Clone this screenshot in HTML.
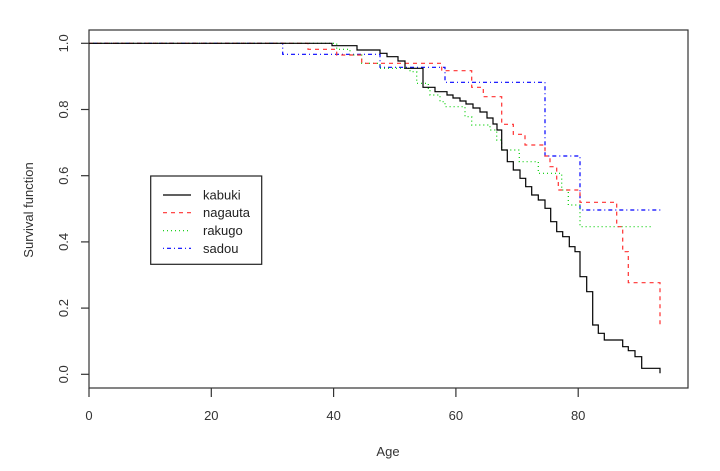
<!DOCTYPE html>
<html><head><style>
body{margin:0;background:#fff;}
svg{display:block;font-family:"Liberation Sans",Arial,sans-serif;}
</style></head><body>
<svg width="720" height="471" viewBox="0 0 720 471" xmlns="http://www.w3.org/2000/svg">
<rect width="720" height="471" fill="#fff"/>
<rect x="89" y="30" width="599" height="358" fill="none" stroke="#333" stroke-width="1.2"/>
<g stroke="#333" stroke-width="1.2">
<line x1="89" y1="43.3" x2="81" y2="43.3"/><line x1="89" y1="109.5" x2="81" y2="109.5"/>
<line x1="89" y1="175.7" x2="81" y2="175.7"/><line x1="89" y1="241.9" x2="81" y2="241.9"/>
<line x1="89" y1="308.1" x2="81" y2="308.1"/><line x1="89" y1="374.3" x2="81" y2="374.3"/>
<line x1="89" y1="388" x2="89" y2="397"/><line x1="211.3" y1="388" x2="211.3" y2="397"/>
<line x1="333.6" y1="388" x2="333.6" y2="397"/><line x1="455.9" y1="388" x2="455.9" y2="397"/>
<line x1="578.2" y1="388" x2="578.2" y2="397"/>
</g>
<g font-size="13" fill="#333" text-anchor="middle">
<text transform="translate(68,43.3) rotate(-90)">1.0</text>
<text transform="translate(68,109.5) rotate(-90)">0.8</text>
<text transform="translate(68,175.7) rotate(-90)">0.6</text>
<text transform="translate(68,241.9) rotate(-90)">0.4</text>
<text transform="translate(68,308.1) rotate(-90)">0.2</text>
<text transform="translate(68,374.3) rotate(-90)">0.0</text>
<text x="89" y="420">0</text><text x="211.3" y="420">20</text><text x="333.6" y="420">40</text>
<text x="455.9" y="420">60</text><text x="578.2" y="420">80</text>
<text x="388" y="456">Age</text>
<text transform="translate(33,210) rotate(-90)">Survival function</text>
</g>
<g fill="none" stroke-width="1.2">
<path stroke="#0000ff" stroke-dasharray="1,3,4,3" d="M89,43.3 H282.7 V54.3 H380 V67.3 H445 V82.3 H545 V156 H580 V210 H663.3"/>
<path stroke="#00cd00" stroke-dasharray="1,3" d="M89,43.3 H336.7 V49.3 H350 V55 H361.7 V63.3 H380 V68.3 H410 V71.7 H416.7 V83.3 H428.3 V88.3 H430 V95 H440 V101.7 H445 V106.7 H465 V116.7 H471.7 V125 H490 V130 H496.7 V140 H501.7 V150 H519.3 V161.7 H538.3 V173.3 H561.7 V190 H568.3 V205 H580 V226.7 H651.7"/>
<path stroke="#ff3030" stroke-dasharray="4,4" d="M89,43.3 H308 V49.3 H336.7 V55 H361.7 V63.3 H441.7 V70.7 H471.7 V87.3 H483.3 V96.7 H501.7 V124.3 H513.3 V134.3 H525 V145 H545 V156 H550 V166.7 H556.7 V180 H558.3 V190 H580 V202.3 H616.7 V226.7 H622.7 V251.7 H628.3 V282.7 H660 V328.3"/>
<path stroke="#000" d="M89,43.3 H332 V45.7 H357 V50 H380 V53.3 H387 V56.7 H398 V61 H405 V68.3 H423 V87.3 H435 V91.7 H447 V95 H453 V98 H460 V101 H466 V104 H473 V108 H480 V112 H487 V118 H493 V124 H497 V130 H501.7 V150 H507.3 V161.7 H513.3 V170 H520 V178.3 H525.7 V186.7 H531.7 V195 H538.3 V200 H545 V208.3 H550.7 V221.7 H556.7 V231.7 H562.7 V236.7 H569.3 V246.7 H575 V251.7 H580 V276.7 H586.7 V291.7 H592.7 V325 H598.3 V333.3 H604.3 V340 H622.7 V346.7 H628.3 V350.7 H635 V356.7 H641.7 V368.3 H660 V373.3"/>
</g>
<rect x="150.7" y="176" width="111" height="88.3" fill="#fff" stroke="#222" stroke-width="1.2"/>
<g stroke-width="1.2">
<line x1="163" y1="195" x2="191" y2="195" stroke="#000"/>
<line x1="163" y1="212.7" x2="191" y2="212.7" stroke="#ff3030" stroke-dasharray="4,4"/>
<line x1="163" y1="230.7" x2="191" y2="230.7" stroke="#00cd00" stroke-dasharray="1,3"/>
<line x1="163" y1="248.3" x2="191" y2="248.3" stroke="#0000ff" stroke-dasharray="1,3,4,3"/>
</g>
<g font-size="13" fill="#222">
<text x="203" y="199.5">kabuki</text>
<text x="203" y="217.2">nagauta</text>
<text x="203" y="235.2">rakugo</text>
<text x="203" y="252.8">sadou</text>
</g>
</svg>
</body></html>
